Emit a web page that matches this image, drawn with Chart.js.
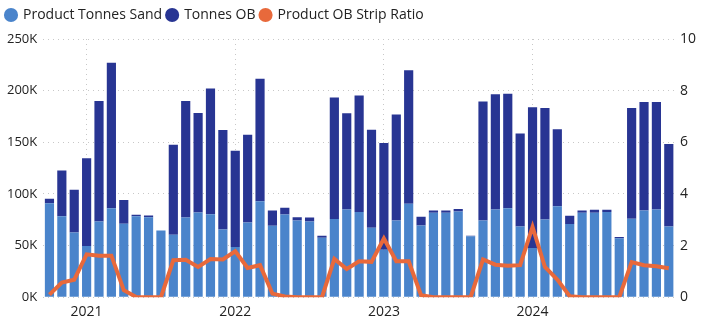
<!DOCTYPE html>
<html>
<head>
<meta charset="utf-8">
<script src="https://cdn.jsdelivr.net/npm/chart.js@4"></script>
<style>
  html, body { margin: 0; padding: 0; background: #fff; }
  #wrap { width: 701px; height: 328px; }
</style>
</head>
<body>
<div id="wrap"><canvas id="chartCanvas" width="701" height="328"></canvas></div>
<script>
// maanden okt 2020 t/m dec 2024
const months = [
  "2020-10", "2020-11", "2020-12",
  "2021-01", "2021-02", "2021-03", "2021-04", "2021-05", "2021-06", "2021-07", "2021-08", "2021-09", "2021-10", "2021-11", "2021-12",
  "2022-01", "2022-02", "2022-03", "2022-04", "2022-05", "2022-06", "2022-07", "2022-08", "2022-09", "2022-10", "2022-11", "2022-12",
  "2023-01", "2023-02", "2023-03", "2023-04", "2023-05", "2023-06", "2023-07", "2023-08", "2023-09", "2023-10", "2023-11", "2023-12",
  "2024-01", "2024-02", "2024-03", "2024-04", "2024-05", "2024-06", "2024-07", "2024-08", "2024-09", "2024-10", "2024-11", "2024-12"
];

// tonnen in duizenden (K)
const sandTonnes = [
  91, 78.5, 62.7, 49.5, 73.4, 86.2, 71, 78.5, 77.5, 64.7,
  60.5, 77.2, 82, 80.4, 65.6, 48.6, 72.4, 93, 69.2, 80.1,
  74.3, 73.4, 57.6, 75.6, 85, 82.4, 67.3, 46, 74.3, 90.4,
  69.5, 81.7, 81.7, 83, 59, 74.3, 85, 86.2, 68.5, 47.6,
  75.3, 88.1, 70.8, 81.7, 81.7, 82.4, 57, 76, 84, 85, 68.5
];
const obTonnes = [
  4.3, 44.1, 41.3, 85, 116.6, 140.8, 23, 1.3, 1.6, 0,
  87.2, 112.8, 96.3, 121.6, 96.4, 93.3, 84.9, 118.4, 14.8, 6.5,
  3.2, 3.8, 1.9, 117.8, 93, 112.9, 94.9, 103.3, 102.7, 129.4,
  8.4, 2.3, 2.3, 2.3, 0.6, 115.2, 111.6, 110.7, 90.1, 136.4,
  107.8, 74.4, 8, 2.3, 2.9, 2.2, 1.2, 107.1, 104.9, 103.9, 79.9
];
const stripRatio = [
  0.1, 0.57, 0.68, 1.66, 1.61, 1.61, 0.27, 0.01, 0, 0,
  1.43, 1.45, 1.17, 1.48, 1.46, 1.78, 1.13, 1.24, 0.14, 0.03,
  0, 0, 0, 1.48, 1.09, 1.39, 1.37, 2.27, 1.39, 1.39,
  0.08, 0, 0, 0, 0, 1.46, 1.26, 1.22, 1.24, 2.72,
  1.17, 0.68, 0.04, 0, 0, 0, 0, 1.36, 1.24, 1.2, 1.12
];

const FONT = "'Open Sans', 'Noto Sans', sans-serif";
const GRID = "#c8c8c8";

const isJan = (i) => months[i] && months[i].endsWith("-01");

// extra ruimte onder de legenda
const legendGap = {
  id: "legendGap",
  beforeInit(chart) {
    const fit = chart.legend.fit;
    chart.legend.fit = function () {
      fit.bind(chart.legend)();
      this.height += 7;
    };
  },
};

const ctx = document.getElementById("chartCanvas").getContext("2d");
new Chart(ctx, {
  type: "bar",
  data: {
    labels: months,
    datasets: [
      {
        label: "Product Tonnes Sand",
        data: sandTonnes,
        backgroundColor: "#4a84cb",
        stack: "t",
        order: 1,
        yAxisID: "y",
        barPercentage: 0.78,
        categoryPercentage: 0.95,
      },
      {
        label: "Tonnes OB",
        data: obTonnes,
        backgroundColor: "#283593",
        stack: "t",
        order: 1,
        yAxisID: "y",
        barPercentage: 0.78,
        categoryPercentage: 0.95,
      },
      {
        type: "line",
        label: "Product OB Strip Ratio",
        data: stripRatio,
        borderColor: "#e8693b",
        backgroundColor: "#e8693b",
        borderWidth: 4,
        pointRadius: 0,
        tension: 0,
        order: 0,
        yAxisID: "y1",
      },
    ],
  },
  plugins: [legendGap],
  options: {
    responsive: false,
    animation: false,
    layout: { padding: { left: 1, right: 0, top: 3, bottom: 2 } },
    plugins: {
      tooltip: { enabled: false },
      legend: {
        position: "top",
        align: "start",
        labels: {
          generateLabels: (chart) =>
            Chart.defaults.plugins.legend.labels
              .generateLabels(chart)
              .map((l) => ({ ...l, lineWidth: 0, strokeStyle: l.fillStyle })),
          sort: (a, b) => a.datasetIndex - b.datasetIndex,
          usePointStyle: true,
          pointStyle: "circle",
          boxWidth: 10,
          boxHeight: 10,
          padding: 5,
          color: "#222",
          font: { family: FONT, size: 14 },
        },
      },
    },
    scales: {
      x: {
        stacked: true,
        offset: true,
        grid: {
          offset: false,
          drawTicks: false,
          color: (c) => (isJan(c.index) ? GRID : "rgba(0,0,0,0)"),
        },
        border: { display: false, dash: [1, 4] },
        ticks: {
          autoSkip: false,
          maxRotation: 0,
          padding: 6,
          color: "#222",
          font: { family: FONT, size: 14 },
          callback: (v, i) => (isJan(i) ? months[i].slice(0, 4) : ""),
        },
      },
      y: {
        stacked: true,
        position: "left",
        min: 0,
        max: 250,
        grid: { color: GRID, drawTicks: false },
        border: { display: false, dash: [1, 4] },
        ticks: {
          stepSize: 50,
          padding: 6,
          color: "#222",
          font: { family: FONT, size: 13 },
          callback: (v) => v + "K",
        },
      },
      y1: {
        position: "right",
        min: 0,
        max: 10,
        grid: { drawOnChartArea: false, drawTicks: false },
        border: { display: false },
        ticks: {
          stepSize: 2,
          padding: 5,
          color: "#222",
          font: { family: FONT, size: 14 },
        },
      },
    },
  },
});
</script>
</body>
</html>
